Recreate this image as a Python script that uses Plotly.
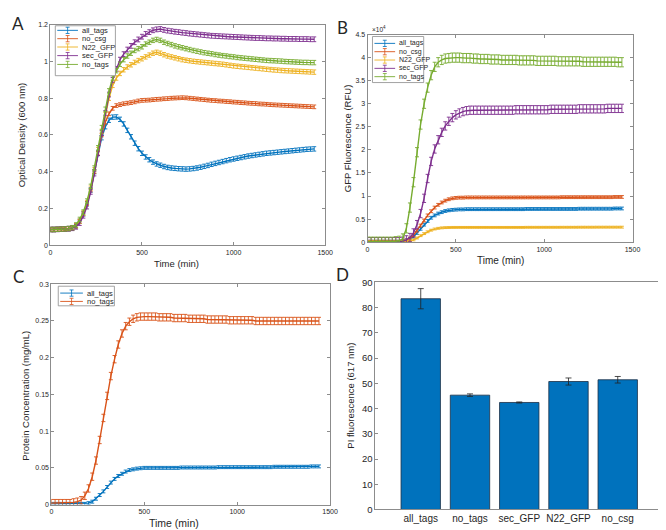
import plotly.graph_objects as go

# ---------------- DATA ----------------
time_min = list(range(0, 1441, 20))  # sampling grid, 0..1440 min

# Panel A: Optical density (600 nm)
od_all_tags = [0.085, 0.085, 0.086, 0.087, 0.088, 0.090, 0.094, 0.105, 0.130, 0.170,
               0.225, 0.300, 0.400, 0.500, 0.585, 0.645, 0.680, 0.697, 0.698, 0.685,
               0.660, 0.625, 0.590, 0.555, 0.525, 0.500, 0.480, 0.465, 0.452, 0.442,
               0.435, 0.428, 0.423, 0.420, 0.418, 0.416, 0.415, 0.414, 0.415, 0.417,
               0.420, 0.424, 0.429, 0.434, 0.440, 0.445, 0.450, 0.455, 0.460, 0.465,
               0.469, 0.473, 0.477, 0.481, 0.485, 0.488, 0.491, 0.494, 0.497, 0.500,
               0.502, 0.504, 0.506, 0.508, 0.510, 0.512, 0.514, 0.516, 0.518, 0.520,
               0.522, 0.523, 0.524]
od_no_csg = [0.085, 0.085, 0.086, 0.087, 0.088, 0.090, 0.094, 0.105, 0.130, 0.170,
             0.225, 0.300, 0.400, 0.500, 0.600, 0.670, 0.715, 0.745, 0.760, 0.765,
             0.770, 0.773, 0.776, 0.780, 0.785, 0.788, 0.789, 0.790, 0.792, 0.794,
             0.795, 0.797, 0.798, 0.800, 0.801, 0.802, 0.803, 0.802, 0.800, 0.798,
             0.796, 0.794, 0.792, 0.790, 0.788, 0.787, 0.785, 0.784, 0.782, 0.781,
             0.779, 0.778, 0.776, 0.775, 0.773, 0.772, 0.771, 0.769, 0.768, 0.767,
             0.765, 0.764, 0.763, 0.762, 0.761, 0.760, 0.759, 0.758, 0.757, 0.756,
             0.755, 0.754, 0.753]
od_n22_gfp = [0.085, 0.085, 0.086, 0.087, 0.088, 0.090, 0.094, 0.105, 0.130, 0.175,
              0.230, 0.310, 0.410, 0.520, 0.620, 0.710, 0.800, 0.870, 0.910, 0.935,
              0.955, 0.970, 0.982, 0.995, 1.005, 1.015, 1.025, 1.035, 1.045, 1.050,
              1.045, 1.037, 1.030, 1.025, 1.020, 1.015, 1.010, 1.007, 1.004, 1.001,
              0.999, 0.997, 0.995, 0.993, 0.991, 0.989, 0.987, 0.985, 0.982, 0.979,
              0.976, 0.974, 0.972, 0.970, 0.968, 0.966, 0.964, 0.962, 0.960, 0.958,
              0.956, 0.954, 0.953, 0.951, 0.950, 0.949, 0.948, 0.947, 0.946, 0.945,
              0.944, 0.943, 0.942]
od_sec_gfp = [0.085, 0.085, 0.086, 0.087, 0.088, 0.089, 0.092, 0.100, 0.120, 0.160,
              0.210, 0.290, 0.390, 0.500, 0.610, 0.720, 0.820, 0.900, 0.960, 1.010,
              1.040, 1.065, 1.085, 1.105, 1.120, 1.135, 1.150, 1.160, 1.170, 1.175,
              1.177, 1.172, 1.168, 1.165, 1.162, 1.160, 1.157, 1.155, 1.152, 1.150,
              1.148, 1.146, 1.144, 1.142, 1.140, 1.139, 1.138, 1.137, 1.136, 1.135,
              1.134, 1.133, 1.132, 1.131, 1.130, 1.129, 1.128, 1.128, 1.127, 1.126,
              1.126, 1.125, 1.125, 1.124, 1.124, 1.123, 1.123, 1.123, 1.122, 1.122,
              1.122, 1.121, 1.121]
od_no_tags = [0.085, 0.085, 0.086, 0.087, 0.088, 0.090, 0.095, 0.110, 0.140, 0.180,
              0.240, 0.320, 0.420, 0.530, 0.640, 0.740, 0.840, 0.910, 0.950, 0.985,
              1.010, 1.030, 1.045, 1.060, 1.070, 1.080, 1.095, 1.105, 1.115, 1.120,
              1.115, 1.105, 1.098, 1.092, 1.085, 1.080, 1.075, 1.070, 1.065, 1.060,
              1.056, 1.052, 1.048, 1.045, 1.042, 1.038, 1.035, 1.032, 1.030, 1.027,
              1.025, 1.022, 1.020, 1.018, 1.016, 1.014, 1.012, 1.010, 1.008, 1.006,
              1.005, 1.004, 1.003, 1.002, 1.000, 0.999, 0.998, 0.997, 0.996, 0.995,
              0.995, 0.994, 0.994]
od_err = [0.012, 0.010, 0.012, 0.013, 0.012]  # all_tags, no_csg, N22_GFP, sec_GFP, no_tags

# Panel B: GFP fluorescence (RFU, in units of 10^4)
gfp_all_tags = [0.01, 0.01, 0.01, 0.01, 0.01, 0.01, 0.01, 0.01, 0.01, 0.01,
                0.02, 0.04, 0.07, 0.12, 0.20, 0.29, 0.38, 0.46, 0.53, 0.58,
                0.62, 0.65, 0.675, 0.69, 0.70, 0.705, 0.71, 0.71, 0.715, 0.715,
                0.715, 0.715, 0.715, 0.715, 0.715, 0.715, 0.715, 0.715, 0.715, 0.715,
                0.715, 0.715, 0.715, 0.715, 0.715, 0.72, 0.72, 0.72, 0.72, 0.72,
                0.72, 0.72, 0.72, 0.72, 0.72, 0.72, 0.72, 0.72, 0.72, 0.72,
                0.725, 0.725, 0.725, 0.725, 0.725, 0.725, 0.725, 0.725, 0.725, 0.725,
                0.73, 0.73, 0.73]
gfp_no_csg = [0.01, 0.01, 0.01, 0.01, 0.01, 0.01, 0.01, 0.01, 0.01, 0.01,
              0.02, 0.04, 0.08, 0.15, 0.25, 0.36, 0.47, 0.58, 0.67, 0.75,
              0.81, 0.86, 0.90, 0.93, 0.95, 0.96, 0.965, 0.965, 0.97, 0.97,
              0.97, 0.97, 0.97, 0.97, 0.97, 0.97, 0.97, 0.97, 0.97, 0.97,
              0.97, 0.97, 0.97, 0.97, 0.97, 0.97, 0.97, 0.97, 0.97, 0.97,
              0.97, 0.97, 0.97, 0.97, 0.97, 0.975, 0.975, 0.975, 0.975, 0.975,
              0.975, 0.975, 0.975, 0.975, 0.975, 0.975, 0.975, 0.975, 0.975, 0.975,
              0.98, 0.98, 0.98]
gfp_n22_gfp = [0.01, 0.01, 0.01, 0.01, 0.01, 0.01, 0.01, 0.01, 0.01, 0.01,
               0.01, 0.015, 0.03, 0.05, 0.09, 0.14, 0.185, 0.225, 0.26, 0.285,
               0.30, 0.31, 0.315, 0.318, 0.32, 0.32, 0.32, 0.32, 0.32, 0.32,
               0.32, 0.32, 0.32, 0.32, 0.32, 0.32, 0.32, 0.32, 0.32, 0.32,
               0.32, 0.32, 0.32, 0.32, 0.32, 0.322, 0.322, 0.322, 0.322, 0.322,
               0.322, 0.322, 0.322, 0.322, 0.322, 0.323, 0.323, 0.323, 0.323, 0.323,
               0.324, 0.324, 0.324, 0.324, 0.324, 0.325, 0.325, 0.325, 0.325, 0.325,
               0.325, 0.325, 0.325]
gfp_sec_gfp = [0.01, 0.01, 0.01, 0.01, 0.01, 0.01, 0.01, 0.01, 0.01, 0.01,
               0.02, 0.05, 0.10, 0.20, 0.38, 0.62, 0.95, 1.38, 1.75, 2.02,
               2.22, 2.38, 2.52, 2.62, 2.70, 2.76, 2.80, 2.83, 2.85, 2.86,
               2.86, 2.86, 2.86, 2.86, 2.86, 2.86, 2.86, 2.86, 2.86, 2.86,
               2.86, 2.86, 2.87, 2.87, 2.87, 2.87, 2.87, 2.87, 2.87, 2.87,
               2.87, 2.87, 2.88, 2.88, 2.88, 2.88, 2.88, 2.88, 2.88, 2.88,
               2.89, 2.89, 2.89, 2.89, 2.89, 2.89, 2.89, 2.89, 2.90, 2.90,
               2.90, 2.90, 2.90]
gfp_no_tags = [0.01, 0.01, 0.01, 0.01, 0.01, 0.01, 0.01, 0.01, 0.02, 0.03,
               0.08, 0.30, 0.75, 1.30, 1.95, 2.55, 3.00, 3.35, 3.62, 3.80,
               3.90, 3.95, 3.98, 3.99, 4.00, 4.00, 4.00, 3.99, 3.99, 3.99,
               3.98, 3.98, 3.97, 3.97, 3.97, 3.96, 3.96, 3.96, 3.95, 3.95,
               3.95, 3.95, 3.95, 3.94, 3.94, 3.94, 3.94, 3.94, 3.93, 3.93,
               3.93, 3.93, 3.93, 3.93, 3.92, 3.92, 3.92, 3.92, 3.92, 3.92,
               3.92, 3.91, 3.91, 3.91, 3.91, 3.91, 3.91, 3.91, 3.91, 3.91,
               3.91, 3.90, 3.90]
gfp_err = [0.03, 0.03, 0.02, 0.09, 0.10]  # all_tags, no_csg, N22_GFP, sec_GFP, no_tags

# Panel C: protein concentration (mg/mL)
prot_all_tags = [0.001, 0.001, 0.001, 0.001, 0.001, 0.001, 0.001, 0.001, 0.001, 0.001,
                 0.002, 0.004, 0.008, 0.013, 0.018, 0.024, 0.030, 0.035, 0.039, 0.042,
                 0.045, 0.047, 0.048, 0.049, 0.0495, 0.050, 0.050, 0.050, 0.050, 0.050,
                 0.050, 0.050, 0.050, 0.050, 0.050, 0.0505, 0.0505, 0.0505, 0.0505, 0.0505,
                 0.0505, 0.0505, 0.0505, 0.0505, 0.0505, 0.051, 0.051, 0.051, 0.051, 0.051,
                 0.051, 0.051, 0.051, 0.051, 0.051, 0.051, 0.051, 0.051, 0.051, 0.051,
                 0.0515, 0.0515, 0.0515, 0.0515, 0.0515, 0.0515, 0.0515, 0.0515, 0.0515, 0.0515,
                 0.052, 0.052, 0.052]
prot_no_tags = [0.002, 0.002, 0.002, 0.002, 0.002, 0.002, 0.003, 0.004, 0.006, 0.012,
                0.022, 0.038, 0.060, 0.088, 0.118, 0.148, 0.175, 0.198, 0.218, 0.233,
                0.243, 0.249, 0.253, 0.255, 0.256, 0.256, 0.256, 0.256, 0.256, 0.255,
                0.255, 0.255, 0.255, 0.254, 0.254, 0.254, 0.254, 0.253, 0.253, 0.253,
                0.253, 0.253, 0.252, 0.252, 0.252, 0.252, 0.252, 0.252, 0.251, 0.251,
                0.251, 0.251, 0.251, 0.251, 0.251, 0.250, 0.250, 0.250, 0.250, 0.250,
                0.250, 0.250, 0.250, 0.250, 0.250, 0.250, 0.250, 0.250, 0.250, 0.250,
                0.250, 0.250, 0.250]
prot_err = [0.002, 0.005]  # all_tags, no_tags

# Panel D: PI fluorescence (617 nm)
pi_strains = ["all_tags", "no_tags", "sec_GFP", "N22_GFP", "no_csg"]
pi_values = [83.5, 45.3, 42.4, 50.7, 51.4]
pi_errors = [4.0, 0.5, 0.2, 1.4, 1.3]

strains_abd = ["all_tags", "no_csg", "N22_GFP", "sec_GFP", "no_tags"]
strains_c = ["all_tags", "no_tags"]

for s in [od_all_tags, od_no_csg, od_n22_gfp, od_sec_gfp, od_no_tags,
          gfp_all_tags, gfp_no_csg, gfp_n22_gfp, gfp_sec_gfp, gfp_no_tags,
          prot_all_tags, prot_no_tags]:
    assert len(s) == len(time_min), len(s)

# ---------------- STYLE ----------------
W, H = 666, 530
COLORS = ["#0072BD", "#D95319", "#EDB120", "#7E2F8E", "#77AC30"]
FONT = "Liberation Sans, Arial, sans-serif"
AX_COL = "#8c8c8c"
TXT = "#262626"


def px(x):
    return x / W


def py(y):
    return 1 - y / H


fig = go.Figure()

od_series = [od_all_tags, od_no_csg, od_n22_gfp, od_sec_gfp, od_no_tags]
gfp_series = [gfp_all_tags, gfp_no_csg, gfp_n22_gfp, gfp_sec_gfp, gfp_no_tags]
prot_series = [prot_all_tags, prot_no_tags]


def add_curve(x, y, err, col, xa, ya, name):
    fig.add_trace(go.Scatter(
        x=x, y=y, mode="lines", name=name, showlegend=False,
        line=dict(color=col, width=1.4),
        error_y=dict(type="constant", value=err, color=col, thickness=0.9, width=2),
        xaxis=xa, yaxis=ya))


for i, s in enumerate(od_series):
    add_curve(time_min, s, od_err[i], COLORS[i], "x", "y", strains_abd[i])
for i, s in enumerate(gfp_series):
    add_curve(time_min, s, gfp_err[i], COLORS[i], "x2", "y2", strains_abd[i])
for i, s in enumerate(prot_series):
    add_curve(time_min, s, prot_err[i], COLORS[i], "x3", "y3", strains_c[i])

fig.add_trace(go.Bar(
    x=pi_strains, y=pi_values, width=0.8, showlegend=False,
    marker=dict(color="#0072BD", line=dict(color="#1b2f45", width=0.8)),
    error_y=dict(type="data", array=pi_errors, color="#222222", thickness=0.8, width=3),
    xaxis="x4", yaxis="y4"))


def axis_style(domain, rng, tickvals, ticktext, fs, anchor):
    return dict(domain=domain, range=rng, tickvals=tickvals, ticktext=ticktext,
                showline=True, linecolor=AX_COL, linewidth=1, mirror="ticks",
                ticks="inside", ticklen=3, tickcolor=AX_COL, tickwidth=0.8,
                showgrid=False, zeroline=False, anchor=anchor,
                tickfont=dict(family=FONT, size=fs, color=TXT))


time_ticks = [0, 500, 1000, 1500]
time_text = ["0", "500", "1000", "1500"]

dA_x = [px(41), px(320)]
dA_y = [py(236), py(11)]
dB_x = [px(363), px(632)]
dB_y = [py(233), py(21)]
dC_x = [px(42), px(325)]
dC_y = [py(501), py(276)]
dD_x = [px(371), px(663)]
dD_y = [py(506), py(274)]

od_ticks = [0, 0.2, 0.4, 0.6, 0.8, 1.0, 1.2]
od_text = ["0", "0.2", "0.4", "0.6", "0.8", "1", "1.2"]
gfp_ticks = [0, 0.5, 1, 1.5, 2, 2.5, 3, 3.5, 4, 4.5]
gfp_text = ["0", "0.5", "1", "1.5", "2", "2.5", "3", "3.5", "4", "4.5"]
prot_ticks = [0, 0.05, 0.1, 0.15, 0.2, 0.25, 0.3]
prot_text = ["0", "0.05", "0.1", "0.15", "0.2", "0.25", "0.3"]
pi_ticks = list(range(0, 91, 10))

fig.update_layout(
    width=W, height=H, margin=dict(l=0, r=0, t=0, b=0),
    paper_bgcolor="white", plot_bgcolor="white",
    font=dict(family=FONT, color=TXT),
    xaxis=axis_style(dA_x, [0, 1500], time_ticks, time_text, 7, "y"),
    yaxis=axis_style(dA_y, [0, 1.2], od_ticks, od_text, 7, "x"),
    xaxis2=axis_style(dB_x, [0, 1500], time_ticks, time_text, 7, "y2"),
    yaxis2=axis_style(dB_y, [0, 4.5], gfp_ticks, gfp_text, 7, "x2"),
    xaxis3=axis_style(dC_x, [0, 1500], time_ticks, time_text, 7, "y3"),
    yaxis3=axis_style(dC_y, [0, 0.3], prot_ticks, prot_text, 7, "x3"),
    xaxis4=dict(domain=dD_x, range=[-0.92, 4.92], type="category", anchor="y4",
                showline=True, linecolor=AX_COL, linewidth=1, mirror=True,
                ticks="", showgrid=False, zeroline=False,
                tickfont=dict(family=FONT, size=10, color=TXT)),
    yaxis4=axis_style(dD_y, [0, 90], pi_ticks, [str(v) for v in pi_ticks], 9.5, "x4"),
    bargap=0.2,
)

shapes = []
annotations = []


def ann(x, y, text, size, angle=0, xanchor="center", family=FONT):
    annotations.append(dict(x=px(x), y=py(y), xref="paper", yref="paper",
                            text=text, showarrow=False, textangle=angle,
                            xanchor=xanchor, yanchor="middle",
                            font=dict(family=family, size=size, color=TXT)))


# axis titles
ann(169, 255, "Time (min)", 9.5)
ann(12, 123, "Optical Density (600 nm)", 9.5, -90)
ann(498, 252, "Time (min)", 10)
ann(343, 127, "GFP Fluorescence (RFU)", 9.5, -90)
ann(167, 520, "Time (min)", 10.5)
ann(16, 390, "Protein Concentration (mg/mL)", 9.5, -90)
ann(346, 390, "PI fluorescence (617 nm)", 9.5, -90)
ann(365, 15, "×10<sup>4</sup>", 6.5, xanchor="left")

# panel letters
ann(8, 10, "A", 17, family="Lato, Open Sans, sans-serif")
ann(338, 14, "B", 17, family="Lato, Open Sans, sans-serif")
ann(9, 268, "C", 17, family="Lato, Open Sans, sans-serif")
ann(338, 266, "D", 17, family="Lato, Open Sans, sans-serif")


def legend_box(x0, y0, x1, y1, rows, names, cols, line_x0, line_x1, fs):
    shapes.append(dict(type="rect", xref="paper", yref="paper",
                       x0=px(x0), x1=px(x1), y0=py(y1), y1=py(y0),
                       fillcolor="white", line=dict(color=AX_COL, width=0.8)))
    for yy, nm, c in zip(rows, names, cols):
        shapes.append(dict(type="line", xref="paper", yref="paper",
                           x0=px(line_x0), x1=px(line_x1), y0=py(yy), y1=py(yy),
                           line=dict(color=c, width=0.9)))
        xm = (line_x0 + line_x1) / 2
        shapes.append(dict(type="line", xref="paper", yref="paper",
                           x0=px(xm), x1=px(xm), y0=py(yy - 3.2), y1=py(yy + 3.2),
                           line=dict(color=c, width=0.8)))
        for d in (-3.2, 3.2):
            shapes.append(dict(type="line", xref="paper", yref="paper",
                               x0=px(xm - 2), x1=px(xm + 2), y0=py(yy + d), y1=py(yy + d),
                               line=dict(color=c, width=0.8)))
        ann(line_x1 + 2, yy, nm, fs, xanchor="left")


legend_box(46, 12, 107, 63, [16.7, 25.2, 33.7, 42.5, 51.5], strains_abd, COLORS, 48, 69, 7.5)
legend_box(368, 23, 420, 70, [30, 38.5, 47, 55.5, 64], strains_abd, COLORS, 370, 391, 7)
legend_box(49, 278, 106, 298, [285, 293.5], strains_c, COLORS[:2], 51, 74, 7.5)

fig.update_layout(shapes=shapes, annotations=annotations)

fig.write_html("out.html")
